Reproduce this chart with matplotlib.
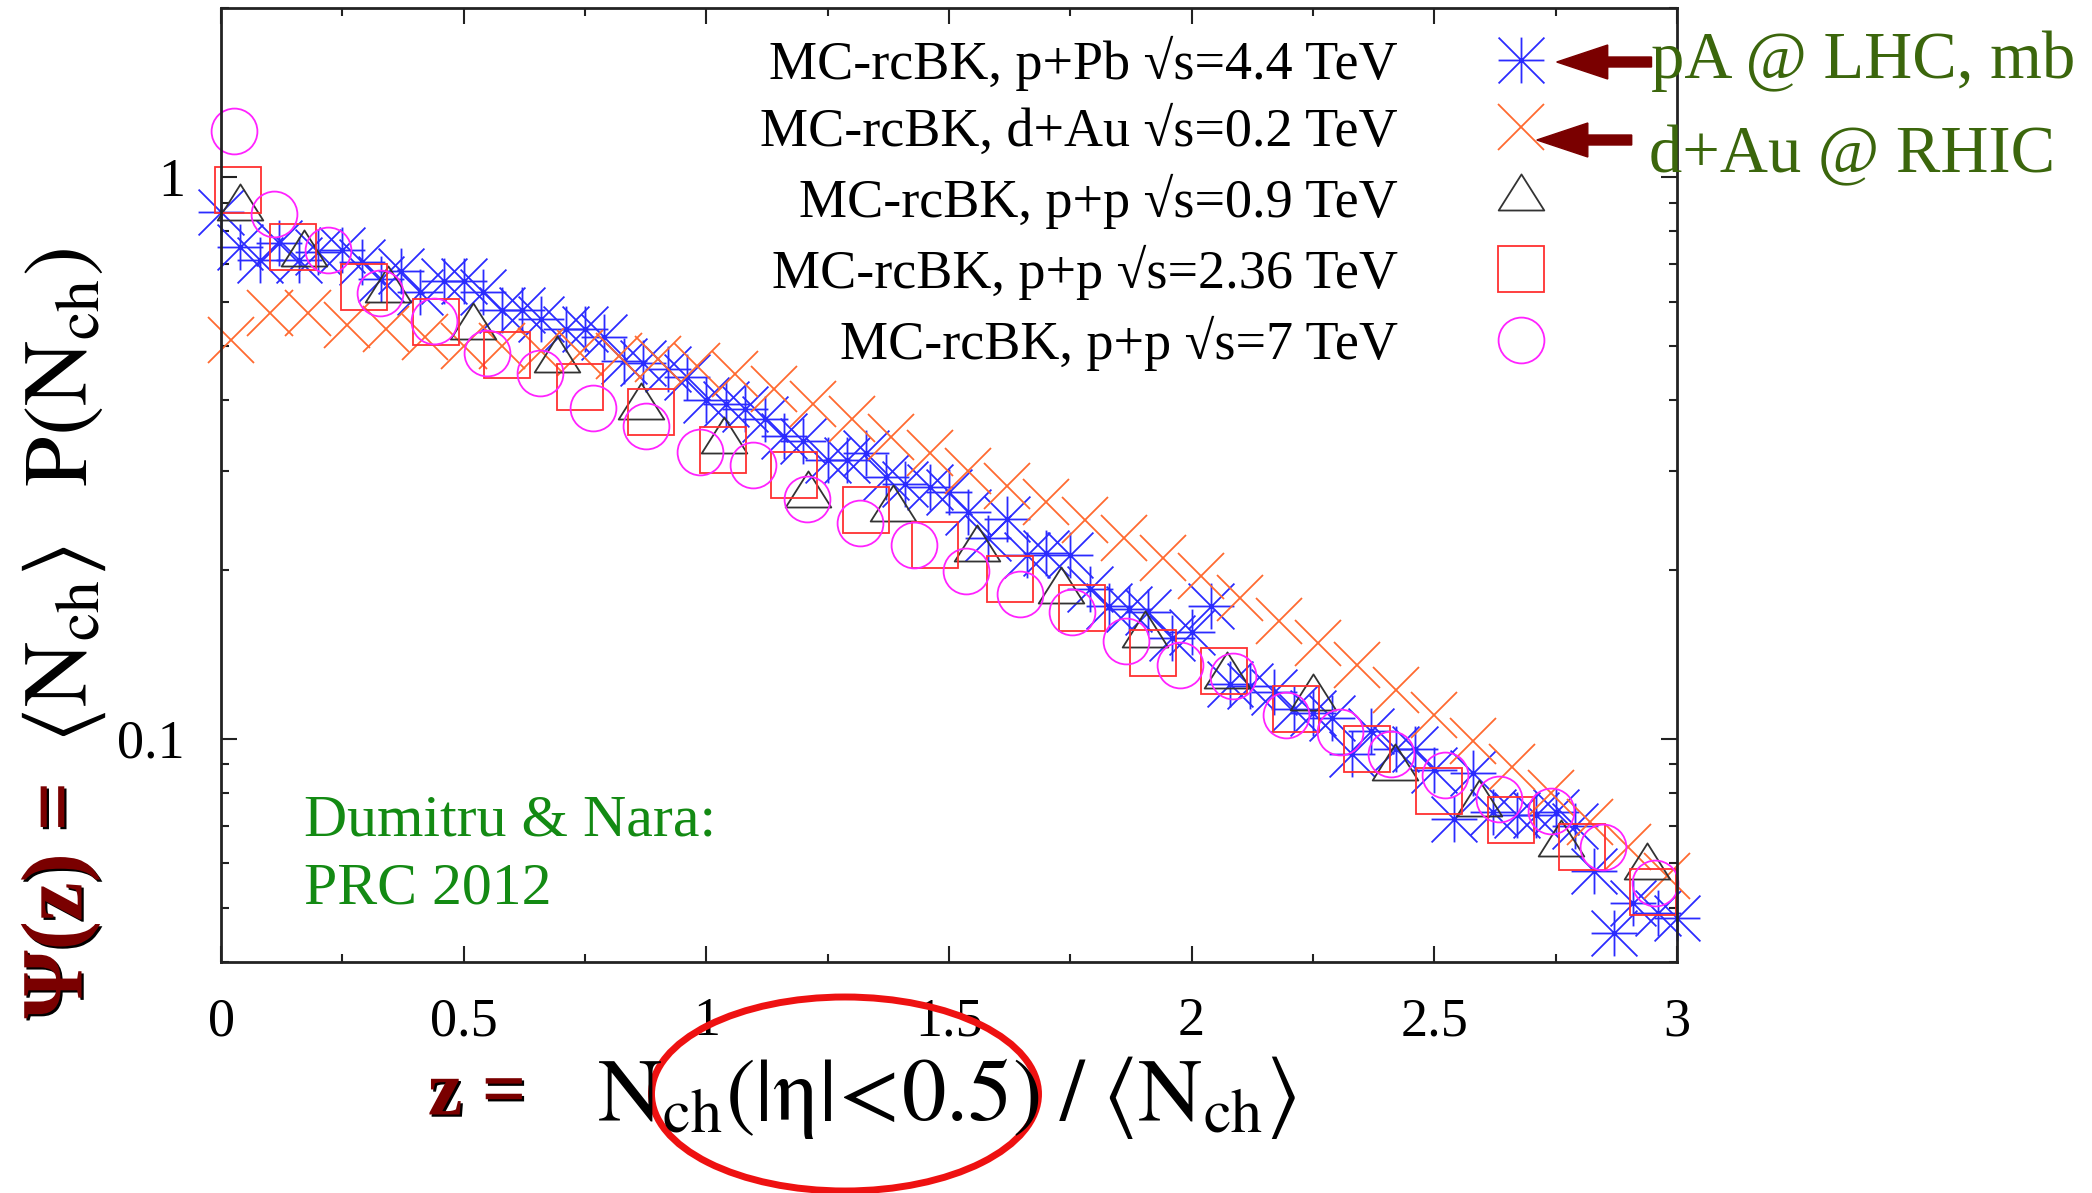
import matplotlib
matplotlib.use("Agg")
import matplotlib.pyplot as plt
import matplotlib.patheffects as pe
from matplotlib.path import Path
from matplotlib.patches import Ellipse, FancyArrow
from matplotlib.ticker import MultipleLocator, FixedLocator, LogLocator, NullFormatter, FuncFormatter

plt.rcParams['font.family'] = ['Liberation Serif', 'DejaVu Serif']
plt.rcParams['mathtext.fontset'] = 'stix'

# ---- data ----
# MC-rcBK, p+Pb sqrt(s)=4.4 TeV (blue asterisks)
ppb_z = [0.00, 0.04, 0.08, 0.12, 0.16, 0.20, 0.25, 0.29, 0.33, 0.37, 0.41, 0.46,
         0.50, 0.54, 0.58, 0.62, 0.66, 0.71, 0.75, 0.79, 0.83, 0.87, 0.92, 0.96,
         1.00, 1.04, 1.08, 1.12, 1.16, 1.20, 1.25, 1.29, 1.33, 1.37, 1.41, 1.46,
         1.50, 1.54, 1.58, 1.62, 1.66, 1.70, 1.75, 1.79, 1.83, 1.87, 1.91, 1.96,
         2.00, 2.04, 2.08, 2.12, 2.17, 2.21, 2.25, 2.29, 2.33, 2.37, 2.42, 2.46,
         2.50, 2.54, 2.58, 2.62, 2.67, 2.71, 2.75, 2.79, 2.83, 2.87, 2.91, 2.96, 3.00]
ppb_p = [0.868, 0.752, 0.713, 0.764, 0.713, 0.735, 0.741, 0.707, 0.658, 0.679, 0.623, 0.653,
         0.653, 0.623, 0.580, 0.580, 0.558, 0.537, 0.537, 0.520, 0.470, 0.466, 0.455, 0.440,
         0.400, 0.395, 0.386, 0.371, 0.346, 0.339, 0.313, 0.313, 0.323, 0.292, 0.284, 0.281,
         0.275, 0.253, 0.228, 0.246, 0.212, 0.214, 0.212, 0.185, 0.172, 0.170, 0.168, 0.151,
         0.155, 0.172, 0.125, 0.124, 0.121, 0.113, 0.111, 0.109, 0.094, 0.103, 0.096, 0.096,
         0.088, 0.072, 0.087, 0.074, 0.073, 0.073, 0.074, 0.070, 0.058, 0.045, 0.051, 0.049, 0.048]

# MC-rcBK, d+Au sqrt(s)=0.2 TeV (orange crosses)
dau_z = [0.02, 0.10, 0.18, 0.26, 0.34, 0.42, 0.50, 0.58, 0.66, 0.74, 0.82, 0.90,
         0.98, 1.06, 1.14, 1.22, 1.30, 1.38, 1.46, 1.54, 1.62, 1.70, 1.78, 1.86,
         1.94, 2.02, 2.10, 2.18, 2.26, 2.34, 2.42, 2.50, 2.58, 2.66, 2.74, 2.82, 2.90, 2.98]
dau_p = [0.512, 0.572, 0.572, 0.545, 0.537, 0.52, 0.50, 0.50, 0.49, 0.485, 0.48, 0.475,
         0.46, 0.445, 0.42, 0.395, 0.37, 0.345, 0.322, 0.30, 0.282, 0.264, 0.245, 0.228,
         0.21, 0.195, 0.178, 0.162, 0.148, 0.135, 0.122, 0.110, 0.099, 0.089, 0.080, 0.071, 0.064, 0.057]

# MC-rcBK, p+p sqrt(s)=0.9 TeV (black triangles)
pp09_z = [0.040, 0.170, 0.345, 0.520, 0.693, 0.866, 1.036, 1.210, 1.384, 1.557,
          1.730, 1.904, 2.072, 2.251, 2.419, 2.592, 2.760, 2.939]
pp09_p = [0.881, 0.729, 0.628, 0.541, 0.472, 0.390, 0.339, 0.272, 0.256, 0.218,
          0.183, 0.153, 0.129, 0.118, 0.0887, 0.0766, 0.0648, 0.059]

# MC-rcBK, p+p sqrt(s)=2.36 TeV (red squares)
pp236_z = [0.035, 0.148, 0.295, 0.443, 0.590, 0.740, 0.886, 1.034, 1.181, 1.329,
           1.471, 1.625, 1.774, 1.920, 2.067, 2.214, 2.361, 2.510, 2.657, 2.805, 2.950]
pp236_p = [0.948, 0.751, 0.637, 0.552, 0.482, 0.422, 0.382, 0.326, 0.295, 0.255,
           0.221, 0.1925, 0.1705, 0.142, 0.132, 0.113, 0.096, 0.0807, 0.0715, 0.0641, 0.0533]

# MC-rcBK, p+p sqrt(s)=7 TeV (magenta circles)
pp7_z = [0.027, 0.110, 0.220, 0.328, 0.438, 0.548, 0.657, 0.767, 0.876, 0.986,
         1.097, 1.207, 1.317, 1.427, 1.534, 1.646, 1.754, 1.865, 1.975, 2.085,
         2.195, 2.305, 2.411, 2.522, 2.634, 2.740, 2.848, 2.955]
pp7_p = [1.21, 0.858, 0.741, 0.622, 0.554, 0.485, 0.448, 0.388, 0.360, 0.324,
         0.307, 0.267, 0.242, 0.221, 0.199, 0.181, 0.168, 0.149, 0.135, 0.129,
         0.110, 0.1027, 0.094, 0.086, 0.078, 0.0743, 0.0641, 0.0554]

labels = ['MC-rcBK, p+Pb √s=4.4 TeV',
          'MC-rcBK, d+Au √s=0.2 TeV',
          'MC-rcBK, p+p √s=0.9 TeV',
          'MC-rcBK, p+p √s=2.36 TeV',
          'MC-rcBK, p+p √s=7 TeV']

# gnuplot style point shapes
asterisk = Path([(-1, 0), (1, 0), (0, -1), (0, 1), (-1, -1), (1, 1), (-1, 1), (1, -1)],
                [Path.MOVETO, Path.LINETO] * 4)
triangle = Path([(0, 1.055), (-1, -0.527), (1, -0.527), (0, 1.055)],
                [Path.MOVETO, Path.LINETO, Path.LINETO, Path.CLOSEPOLY])

W, H = 2092, 1193
fig = plt.figure(figsize=(W / 100, H / 100), dpi=100)
ax = fig.add_axes([221 / W, 1 - 962 / H, (1677 - 221) / W, (962 - 8) / H])

ms = 33
mew = 1.3
series = [
    (ppb_z, ppb_p, asterisk, '#2b2bff', ms),
    (dau_z, dau_p, 'x', '#ff6a30', ms),
    (pp09_z, pp09_p, triangle, '#333333', ms * 1.05),
    (pp236_z, pp236_p, 's', '#ff3030', ms),
    (pp7_z, pp7_p, 'o', '#ff22ff', ms),
]
handles = []
for (z, p, mk, col, size), lab in zip(series, labels):
    h, = ax.plot(z, p, linestyle='none', marker=mk, markersize=size,
                 markerfacecolor='none', markeredgecolor=col, markeredgewidth=mew,
                 label=lab, clip_on=False)
    handles.append(h)

ax.set_xlim(0, 3)
ax.set_yscale('log')
ax.set_ylim(0.04, 2)
ax.xaxis.set_major_locator(MultipleLocator(0.5))
ax.xaxis.set_minor_locator(MultipleLocator(0.25))
ax.xaxis.set_major_formatter(FuncFormatter(lambda v, pos: '%g' % v))
ax.yaxis.set_major_locator(FixedLocator([0.1, 1]))
ax.yaxis.set_major_formatter(FuncFormatter(lambda v, pos: '%g' % v))
ax.yaxis.set_minor_locator(LogLocator(base=10, subs=range(2, 10)))
ax.yaxis.set_minor_formatter(NullFormatter())
ax.tick_params(which='both', direction='in', top=True, right=True, width=1.5,
               color='#222222', labelsize=39)
ax.tick_params(which='major', length=11.5)
ax.tick_params(which='minor', length=5.8)
ax.tick_params(axis='x', pad=25)
ax.tick_params(axis='y', pad=26)
for s in ax.spines.values():
    s.set_linewidth(2)
    s.set_color('#222222')

leg = ax.legend(handles=handles, loc='upper right', bbox_to_anchor=(1564 / W, 1 - 36 / H),
                bbox_transform=fig.transFigure, frameon=False, markerfirst=False,
                fontsize=39, handlelength=1.6, handletextpad=1.47, labelspacing=0.29,
                borderpad=0, borderaxespad=0, numpoints=1)

# axis titles
shadow = [pe.withSimplePatchShadow(offset=(1.6, -1.6), shadow_rgbFace='black', alpha=1)]
dark_red = '#7a0000'
fig.text(64 / W, 1 - 495 / H, r'$\langle \mathrm{N_{ch}}\rangle\;\;\; \mathrm{P(N_{ch})}$',
         rotation=90, ha='center', va='center', fontsize=65)
fig.text(60 / W, 1 - 900 / H, 'Ψ(z) =', rotation=90, ha='center', va='center',
         fontsize=63, fontweight='bold', color=dark_red, path_effects=shadow)
fig.text(477 / W, 1 - 1096 / H, 'z =', ha='center', va='center',
         fontsize=56, fontweight='bold', color=dark_red, path_effects=shadow)
fig.text(947 / W, 1 - 1120 / H,
         r'$\mathrm{N_{ch}(|\eta|\!<\!0.5)\;/\;\langle N_{ch}\rangle}$',
         ha='center', va='baseline', fontsize=64)

# annotations
fig.text(304 / W, 1 - 836 / H, 'Dumitru & Nara:', color='#138a13', fontsize=43, va='baseline')
fig.text(304 / W, 1 - 903 / H, 'PRC 2012', color='#138a13', fontsize=43, va='baseline')
fig.text(1651 / W, 1 - 78 / H, 'pA @ LHC, mb', color='#3b660c', fontsize=48, va='baseline')
fig.text(1649 / W, 1 - 172 / H, 'd+Au @ RHIC', color='#3b660c', fontsize=48, va='baseline')

for x0, x1, yc in [(1651.5, 1556.7, 62), (1631.7, 1536.8, 140)]:
    fig.add_artist(FancyArrow(x0 / 100, (H - yc) / 100, (x1 - x0) / 100, 0,
                              width=0.10, head_width=0.34, head_length=0.51,
                              length_includes_head=True, color=dark_red,
                              transform=fig.dpi_scale_trans))

fig.add_artist(Ellipse((8.45, (H - 1094) / 100), 3.87, 1.94, fill=False,
                       edgecolor='#ee1111', linewidth=5, transform=fig.dpi_scale_trans))

fig.savefig('out.png', dpi=100)
